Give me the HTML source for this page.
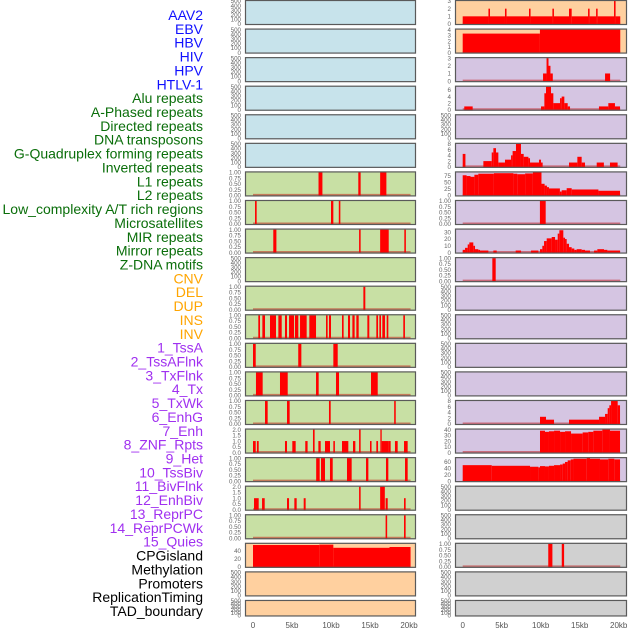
<!DOCTYPE html>
<html><head><meta charset="utf-8">
<style>
html,body{margin:0;padding:0;background:#fff;}
svg{display:block;font-family:"Liberation Sans",sans-serif;}
</style></head>
<body>
<svg id="chart" width="630" height="630" viewBox="0 0 630 630"></svg>
<script>
const trackLabels = ["AAV2","EBV","HBV","HIV","HPV","HTLV-1",
"Alu repeats","A-Phased repeats","Directed repeats","DNA transposons","G-Quadruplex forming repeats","Inverted repeats","L1 repeats","L2 repeats","Low_complexity A/T rich regions","Microsatellites","MIR repeats","Mirror repeats","Z-DNA motifs",
"CNV","DEL","DUP","INS","INV",
"1_TssA","2_TssAFlnk","3_TxFlnk","4_Tx","5_TxWk","6_EnhG","7_Enh","8_ZNF_Rpts","9_Het","10_TssBiv","11_BivFlnk","12_EnhBiv","13_ReprPC","14_ReprPCWk","15_Quies",
"CPGisland","Methylation","Promoters","ReplicationTiming","TAD_boundary"];
const labelGroups = [6,13,5,15,5];
const groupColors = ["#1010ff","#0a6e0a","#ffa500","#a030f0","#000000"];

const xTickValues = [0,5000,10000,15000,20000];
const xTickLabels = ["0","5kb","10kb","15kb","20kb"];
const emptyTicks = [0,100,200,300,400,500];
const binTicks = [0,0.25,0.5,0.75,1];
const binTickLabels = ["0.00","0.25","0.50","0.75","1.00"];
const twoTicks = [0,0.5,1,1.5,2];
const twoTickLabels = ["0.0","0.5","1.0","1.5","2.0"];

// segments: [startKb, endKb, value]
const L1Left = [[8.4,8.9,1],[13.5,13.8,1],[16.3,17.1,1]];
const L2Left = [[0.26,0.47,1],[10.0,10.3,1],[11.0,11.2,1]];
const lowCxLeft = [[2.6,3.0,1],[13.6,13.8,1],[16.3,17.4,1],[19.4,19.6,1]];
const mirLeft = [[14.15,14.4,1]];
const insLeft = [[0.68,0.9,1],[1.2,1.54,1],[2.18,2.95,1],[3.25,3.68,1],[4.1,4.36,1],[4.62,5.26,1],[5.38,5.81,1],[6.03,6.88,1],[7.22,8.08,1],[9.36,9.57,1],[9.74,10.0,1],[11.41,11.62,1],[12.18,12.44,1],[12.74,13.03,1],[13.25,13.55,1],[14.66,14.91,1],[15.81,16.03,1],[16.2,16.41,1],[16.58,16.92,1],[17.14,17.35,1],[19.27,19.48,1]];
const tssALeft = [[0,0.35,1],[5.8,6.2,1],[10.3,10.86,1]];
const tssFlnkLeft = [[0.38,1.24,1],[3.46,4.45,1],[8.08,8.42,1],[10.64,11.03,1],[15.13,15.99,1]];
const txFlnkLeft = [[1.54,1.88,1],[4.36,4.7,1],[9.74,9.96,1],[18.1,18.3,1]];
const znfLeft = [[0,0.35,1],[0.5,0.73,1],[4.1,4.36,1],[5.04,5.47,1],[6.7,7.0,1],[7.69,7.9,2],[8.38,8.68,1],[9.23,9.87,1],[10.3,10.5,1],[11.41,12.22,1],[12.82,13.12,1],[13.6,13.8,2],[15.0,15.2,1],[15.81,16.03,1],[16.33,16.5,2],[16.5,17.35,1],[17.35,17.65,1],[18.2,18.55,1],[19.36,19.83,1]];
const hetLeft = [[8.1,8.55,1],[8.72,9.23,1],[9.87,10.22,1],[12.05,12.65,1],[14.49,14.79,1],[17.05,17.35,1],[19.49,19.83,1]];
const tssBivLeft = [[0.13,0.73,1],[1.16,1.5,1],[4.36,4.62,1],[5.3,5.6,1],[6.5,6.75,1],[13.6,13.8,2],[16.3,16.9,2],[17.0,17.27,1],[19.36,19.57,1]];
const bivFlnkLeft = [[17.0,17.2,1],[19.36,19.57,1]];
const cpgLeft = [[0,8.5,55],[8.5,10.3,56],[10.3,17.5,48],[17.5,20.2,50]];

const aavRight = [[0,3.3,1],[3.3,3.5,2],[3.5,5.42,1],[5.42,5.62,2],[5.62,8.5,1],[8.5,8.7,2],[8.7,11.5,1],[11.5,11.7,2],[11.7,13.63,1],[13.63,13.97,2],[13.97,16.07,1],[16.07,16.27,2],[16.27,17.1,1],[17.1,17.3,2],[17.3,19.4,1],[19.4,19.6,3],[19.6,20.2,1]];
const ebvRight = [[0,9.9,3.3],[9.9,20.2,4]];
const hivRight = [[10.3,10.75,1],[10.75,11.0,3],[11.0,11.25,2],[11.25,11.55,1],[18.25,18.9,1]];
const hpvRight = [[0.2,1.28,1],[10.04,10.47,1],[10.47,10.68,5],[10.68,11.32,7],[11.32,11.62,5],[11.62,12.48,2],[12.48,12.69,3.5],[12.69,13.03,4],[13.03,13.46,2],[13.46,13.76,1],[17.47,18.67,1],[18.67,19.52,2],[19.52,20.17,1]];
const gquadRight = [[0,0.35,4.5],[2.65,3.72,2],[3.72,3.93,5],[3.93,4.27,6.5],[4.27,4.57,5],[4.57,5.42,1.5],[5.42,6.2,2.5],[6.2,6.4,4],[6.4,6.83,5.5],[6.83,7.47,8],[7.47,7.82,4.5],[7.82,8.42,3.5],[8.42,8.63,3],[8.63,9.78,1.5],[9.78,10.04,2.5],[10.04,10.25,1.5],[13.63,14.7,1.5],[14.7,15.25,3.5],[15.25,15.68,1.5],[17.18,18.1,1.5],[18.88,19.86,1.5]];
const l1Right = [[0,0.5,78],[0.5,1.0,75],[1.0,1.5,72],[1.5,2.0,80],[2.0,4.0,84],[4.0,6.5,86],[6.5,7.0,84],[7.0,8.0,82],[8.0,9.0,85],[9.0,10.1,89],[10.1,10.5,45],[10.5,10.8,38],[10.8,11.06,32],[11.06,12.46,27],[12.46,12.69,15],[12.69,13.33,20],[13.33,13.97,28],[13.97,17.4,23],[17.4,20.17,18]];
const lowCxRight = [[9.9,10.64,1]];
const mirRight = [[0,0.3,4],[0.3,0.64,7],[0.64,0.85,12],[0.85,1.36,15],[1.36,1.58,10],[1.58,2.0,5],[2.0,2.22,4],[2.22,3.29,3],[3.93,4.36,3],[6.79,7.48,3],[8.76,9.7,3],[9.91,10.21,5],[10.21,10.43,10],[10.43,10.77,17],[10.77,11.41,21],[11.41,11.84,23],[11.84,12.18,19],[12.18,12.39,28],[12.39,12.9,33],[12.9,13.12,22],[13.12,13.33,20],[13.33,13.63,13],[13.63,13.97,8],[13.97,14.31,6],[14.31,14.61,4],[14.61,15.25,5],[15.25,15.68,4],[15.68,16.32,3],[16.84,17.26,3],[17.26,18.12,5],[18.12,18.55,4],[18.55,20.17,3]];
const zdnaRight = [[3.8,4.23,1]];
const txWkRight = [[9.91,10.68,2.5],[10.68,11.71,1.5],[13.63,17.48,1.5],[17.48,18.25,2.5],[18.25,18.59,3.5],[18.59,18.8,5.5],[18.8,19.02,6.5],[19.02,19.87,8],[19.87,20.17,6.5]];
const enhGRight = [[9.91,10.55,38],[10.55,11.06,36],[11.06,11.71,37],[11.71,12.48,38],[12.48,13.12,36],[13.12,13.89,37],[13.89,15.38,33],[15.38,16.1,35],[16.1,16.75,36],[16.75,17.9,38],[17.9,18.88,40],[18.88,20.17,38]];
const enhRight = [[0,3.72,50],[3.72,8.63,48],[8.63,9.7,45],[9.7,9.91,43],[9.91,10.55,47],[10.55,11.06,46],[11.06,11.71,48],[11.71,12.48,50],[12.48,12.82,52],[12.82,13.12,55],[13.12,13.46,60],[13.46,13.85,65],[13.85,14.2,68],[14.2,15.9,70],[15.9,16.32,72],[16.32,17.6,70],[17.6,18.67,68],[18.67,19.44,70],[19.44,20.17,68]];
const methRight = [[10.97,11.5,1],[12.7,13.0,1]];

const BG = {blue:"#c7e3eb",green:"#c8e0a4",orange:"#ffd09f",purple:"#d5c5e2",gray:"#d0d0d0"};

const panels = [];
for (let r=0;r<22;r++){
  panels.push({col:0,row:r,bg: r<6?'blue':(r<19?'green':'orange')});
  panels.push({col:1,row:r,bg: r<2?'orange':(r<17?'purple':'gray')});
}
function setP(col,row,seg,ymax,ticks,tickLabels,name){
  const p = panels.find(q=>q.col===col&&q.row===row);
  p.seg=seg;p.ymax=ymax;p.ticks=ticks;p.tickLabels=tickLabels;p.name=name;
}
setP(0,6,L1Left,1,binTicks,binTickLabels,'l1-left');
setP(0,7,L2Left,1,binTicks,binTickLabels,'l2-left');
setP(0,8,lowCxLeft,1,binTicks,binTickLabels,'lowcx-left');
setP(0,10,mirLeft,1,binTicks,binTickLabels,'mir-left');
setP(0,11,insLeft,1,binTicks,binTickLabels,'ins-left');
setP(0,12,tssALeft,1,binTicks,binTickLabels,'tssa-left');
setP(0,13,tssFlnkLeft,1,binTicks,binTickLabels,'tssflnk-left');
setP(0,14,txFlnkLeft,1,binTicks,binTickLabels,'txflnk-left');
setP(0,15,znfLeft,2,twoTicks,twoTickLabels,'znf-left');
setP(0,16,hetLeft,1,binTicks,binTickLabels,'het-left');
setP(0,17,tssBivLeft,2,twoTicks,twoTickLabels,'tssbiv-left');
setP(0,18,bivFlnkLeft,1,binTicks,binTickLabels,'bivflnk-left');
setP(0,19,cpgLeft,58,[0,20,40],["0","20","40"],'cpg-left');
setP(1,0,aavRight,3,[0,1,2,3],["0","1","2","3"],'aav-right');
setP(1,1,ebvRight,4,[0,1,2,3,4],["0","1","2","3","4"],'ebv-right');
setP(1,2,hivRight,3,[0,1,2,3],["0","1","2","3"],'hiv-right');
setP(1,3,hpvRight,7,[0,2,4,6],["0","2","4","6"],'hpv-right');
setP(1,5,gquadRight,8,[0,2,4,6,8],["0","2","4","6","8"],'gquad-right');
setP(1,6,l1Right,89,[0,25,50,75],["0","25","50","75"],'l1-right');
setP(1,7,lowCxRight,1,binTicks,binTickLabels,'lowcx-right');
setP(1,8,mirRight,34,[0,10,20,30],["0","10","20","30"],'mir-right');
setP(1,9,zdnaRight,1,binTicks,binTickLabels,'zdna-right');
setP(1,14,txWkRight,8,[0,2,4,6,8],["0","2","4","6","8"],'txwk-right');
setP(1,15,enhGRight,40,[0,10,20,30,40],["0","10","20","30","40"],'enhg-right');
setP(1,16,enhRight,72,[0,20,40,60],["0","20","40","60"],'enh-right');
setP(1,19,methRight,1,binTicks,binTickLabels,'meth-right');

const NS="http://www.w3.org/2000/svg";
const svg=document.getElementById('chart');
function mk(tag,attrs,parent){const e=document.createElementNS(NS,tag);for(const k in attrs)e.setAttribute(k,attrs[k]);(parent||svg).appendChild(e);return e;}

// labels
let li=0;
labelGroups.forEach((n,g)=>{for(let k=0;k<n;k++){
  const t=mk('text',{x:203,y:15+li*13.86+5,'text-anchor':'end','font-size':14,fill:groupColors[g]});
  
  
  t.textContent=trackLabels[li];li++;
}});

const colGeom=[{left:245,right:416,x0:253,x20:409},{left:455,right:627,x0:462.7,x20:618.7}];
function xScale(col,kb){const g=colGeom[col];return g.x0+kb/20*(g.x20-g.x0);}

panels.forEach((p,i)=>{
  const g=colGeom[p.col];
  const top=p.row*28.57, h=p.row===21?16.5:25;
  const bottom=top+h-1, usable=h-2;
  const grp=mk('g',{});
  
  
  const cid='c'+i;
  const cp=mk('clipPath',{id:cid},grp);
  mk('rect',{x:g.left,y:top,width:g.right-g.left,height:h},cp);
  const bg=mk('rect',{x:g.left,y:top,width:g.right-g.left,height:h,fill:BG[p.bg]},grp);
  
  
  const ticks=p.ticks||emptyTicks, tl=p.tickLabels||emptyTicks.map(String), ymax=p.ymax||500;
  const yS=v=>bottom-v/ymax*usable;
  ticks.forEach((v,k)=>{
    const t=mk('text',{x:g.left-4,y:yS(v)+2.2,'text-anchor':'end','font-size':6.2,fill:'#666'},grp);
    
    
    t.textContent=tl[k];
  });
  if(p.seg){
    const dg=mk('g',{'clip-path':'url(#'+cid+')'},grp);
    const bl=mk('line',{x1:xScale(p.col,0),x2:xScale(p.col,20.2),y1:bottom-0.5,y2:bottom-0.5,stroke:'rgba(190,0,0,0.45)','stroke-width':2},dg);
    
    
    p.seg.forEach(s=>{
      const x1=xScale(p.col,s[0]),x2=xScale(p.col,s[1]);
      const y=yS(s[2]);
      const b=mk('rect',{x:x1,y:y,width:Math.max(1.2,x2-x1),height:bottom-y+1,fill:'#ff0000'},dg);
      
      
    });
  }
  const br=mk('rect',{x:g.left+0.5,y:top+0.5,width:g.right-g.left-1,height:h-1,fill:'none',stroke:'#5a5a5a','stroke-width':1.2},grp);
  
  
});

[0,1].forEach(col=>{
  xTickValues.forEach((v,k)=>{
    const t=mk('text',{x:xScale(col,v/1000),y:628,'text-anchor':'middle','font-size':8,fill:'#555'});
    
    
    t.textContent=xTickLabels[k];
  });
});
</script>
</body></html>
